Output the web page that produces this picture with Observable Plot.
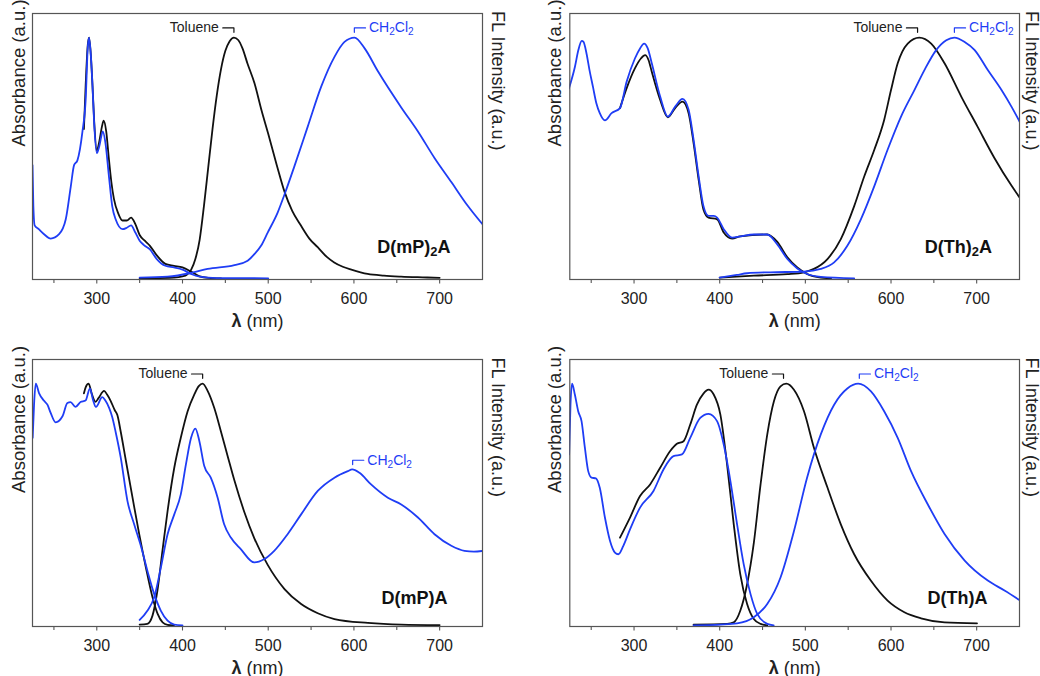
<!DOCTYPE html>
<html><head><meta charset="utf-8">
<script src="https://cdn.jsdelivr.net/npm/d3@7"></script>
<script src="https://cdn.jsdelivr.net/npm/@observablehq/plot@0.6"></script>
<style>
body{margin:0;background:#fff;}
#wrap{position:relative;width:1040px;height:676px;overflow:hidden;background:#fff;}
.panel{position:absolute;}
.panel svg{overflow:visible;}
</style></head><body><div id="wrap"></div>
<script>
// ---------------- data ----------------
const xTicksMajor = [300, 400, 500, 600, 700];
const xTicksMinor = [250, 350, 450, 550, 650];
const xLabel = "λ (nm)";
const yLabelLeft = "Absorbance (a.u.)";
const yLabelRight = "FL Intensity (a.u.)";
const solvents = ["Toluene", "CH2Cl2"];
const compounds = ["D(mP)2A", "D(Th)2A", "D(mP)A", "D(Th)A"];

// D(mP)2A  [wavelength nm, normalized intensity]
const mP2A_tolAbs = [[285,0.62],[287,0.80],[289.5,0.97],[291,1.0],[293,0.93],[295,0.80],[297,0.65],[300,0.53],[303,0.57],[306,0.63],[308,0.655],[311,0.61],[314,0.50],[317,0.40],[320,0.33],[325,0.27],[330,0.24],[335,0.24],[340,0.252],[345,0.225],[350,0.18],[356,0.156],[362,0.135],[370,0.095],[380,0.06],[390,0.052],[400,0.045],[410,0.028],[420,0.008],[430,0.002],[445,0]];
const mP2A_dcmAbs = [[225,0.47],[226,0.30],[227.5,0.22],[232,0.205],[238.5,0.183],[246.3,0.165],[256,0.183],[263.8,0.245],[269.6,0.38],[273.5,0.47],[277.4,0.49],[283.3,0.61],[287,0.74],[289.5,0.96],[291,1.0],[293,0.93],[295,0.80],[297,0.64],[300,0.52],[303,0.55],[307,0.61],[310,0.565],[314,0.43],[318,0.30],[322,0.245],[330,0.204],[335,0.21],[340,0.22],[345,0.19],[350,0.156],[355,0.138],[362,0.12],[370,0.08],[380,0.052],[390,0.045],[400,0.036],[410,0.018],[420,0.007],[440,0.001],[500,0]];
const mP2A_tolFL = [[350,0],[390,0.003],[400,0.008],[405,0.015],[410,0.035],[415,0.08],[420,0.16],[425,0.30],[430,0.46],[435,0.62],[440,0.76],[445,0.87],[450,0.945],[455,0.985],[460,1.0],[465,0.99],[470,0.955],[476,0.89],[484,0.81],[492,0.70],[500,0.60],[510,0.47],[519,0.36],[528,0.28],[538,0.22],[548,0.165],[558,0.128],[568,0.09],[577,0.066],[587,0.048],[597,0.036],[616,0.018],[635,0.011],[655,0.007],[680,0.004],[700,0.002]];
const mP2A_dcmFL = [[350,0.003],[382.6,0.007],[409.8,0.022],[429.3,0.039],[460.5,0.055],[476,0.073],[483.8,0.10],[491.6,0.135],[499.4,0.19],[511,0.273],[519,0.348],[530.6,0.466],[546.2,0.631],[561.8,0.796],[577.3,0.92],[589,0.982],[600.7,1.0],[612.5,0.955],[628,0.86],[655.2,0.71],[674.7,0.61],[694,0.50],[713.6,0.40],[733,0.30],[751,0.22]];

// D(Th)2A
const Th2A_tolAbs = [[283.6,0.707],[291.4,0.79],[301,0.872],[308,0.913],[312.9,0.927],[317,0.906],[320.7,0.858],[330.5,0.741],[339.5,0.669],[348,0.707],[356.6,0.734],[363.7,0.686],[369.5,0.562],[375.4,0.41],[381,0.286],[387,0.252],[397,0.245],[404.7,0.19],[414.5,0.165],[424,0.174],[455.5,0.182],[467,0.152],[479,0.087],[490.6,0.045],[502,0.018],[518,0.003],[530,0]];
const Th2A_dcmAbs = [[224,0.789],[231,0.879],[235,0.948],[239,0.986],[241,0.982],[244.5,0.934],[248,0.865],[252,0.796],[256,0.727],[260,0.686],[266,0.656],[273.8,0.686],[283.6,0.707],[291.4,0.817],[301,0.913],[307,0.955],[311.7,0.975],[316,0.955],[320.7,0.893],[330.5,0.755],[339.5,0.672],[348,0.713],[356.6,0.745],[363.7,0.70],[369.5,0.576],[375.4,0.424],[381,0.30],[387,0.259],[393,0.259],[397,0.252],[404.7,0.204],[414.5,0.169],[424,0.174],[439.8,0.182],[455.5,0.182],[467,0.142],[479,0.08],[490.6,0.041],[502,0.018],[518,0.006],[557,0]];
const Th2A_tolFL = [[400,0.003],[439.8,0.011],[479,0.017],[498.4,0.025],[510,0.039],[525.8,0.08],[541.4,0.163],[557,0.30],[568.8,0.424],[580.5,0.534],[592,0.658],[600,0.782],[607.8,0.893],[619.5,0.975],[633,1.0],[646.9,0.975],[662.5,0.893],[682,0.755],[701,0.63],[720.7,0.50],[740.6,0.385],[751,0.331]];
const Th2A_dcmFL = [[400,0.003],[420,0.014],[432,0.021],[459,0.025],[498.4,0.028],[518,0.039],[533.6,0.066],[549,0.135],[564.8,0.245],[580.5,0.383],[596,0.534],[611.7,0.672],[627.3,0.782],[639,0.865],[652.7,0.948],[664.5,0.989],[674,1.0],[686,0.982],[697.7,0.948],[713,0.865],[729,0.782],[740.6,0.713],[751,0.645]];

// D(mP)A
const mPA_tolAbs = [[285,0.96],[287,0.985],[290.5,1.0],[294,0.96],[298.5,0.925],[302,0.94],[308.5,0.97],[312,0.955],[316,0.93],[321,0.89],[324,0.87],[328,0.80],[334,0.68],[341.7,0.528],[349.5,0.377],[357.3,0.239],[365,0.116],[371,0.047],[376.8,0.012],[382.6,0.002],[390,0]];
const mPA_dcmAbs = [[225.2,0.776],[226.8,0.913],[228.8,1.0],[232.6,0.961],[238.2,0.93],[242.4,0.913],[246.2,0.879],[251.9,0.84],[260,0.865],[265.7,0.92],[269.4,0.924],[275.2,0.904],[281,0.924],[286.9,0.93],[292,0.98],[295.5,0.934],[299,0.904],[306.4,0.944],[310,0.93],[314.4,0.9],[318,0.862],[322,0.80],[328,0.693],[335.8,0.514],[343.6,0.418],[351.4,0.329],[359,0.226],[367,0.129],[374.8,0.06],[382.6,0.019],[390.4,0.003],[400,0]];
const mPA_tolFL = [[350,0.003],[359,0.006],[365,0.04],[370.7,0.143],[376.6,0.308],[382.6,0.473],[390.4,0.652],[398,0.776],[406,0.886],[413.7,0.955],[419,0.99],[423.5,1.0],[429.3,0.97],[437,0.90],[445,0.80],[452.7,0.70],[460.5,0.60],[472,0.47],[483.8,0.36],[499.4,0.25],[519,0.15],[538.4,0.088],[557.8,0.05],[577.3,0.026],[616.3,0.01],[655.2,0.003],[700,0.001]];
const mPA_dcmFL = [[350,0.022],[359,0.06],[367,0.116],[374.8,0.24],[382.6,0.377],[390.4,0.459],[398,0.542],[404,0.666],[410,0.776],[415,0.814],[419.7,0.762],[425.4,0.659],[433,0.611],[441,0.528],[448.6,0.418],[456.4,0.363],[468,0.315],[483.8,0.26],[495.5,0.274],[507,0.308],[522.6,0.377],[538.4,0.459],[557.8,0.556],[577.3,0.611],[592.9,0.638],[598,0.645],[606.5,0.631],[620,0.583],[639.6,0.528],[655.2,0.50],[674.7,0.446],[694,0.377],[713.6,0.329],[729,0.308],[740,0.305],[750.5,0.308]];

// D(Th)A
const ThA_tolAbs = [[283.6,0.363],[295.3,0.446],[307,0.535],[318.75,0.583],[330.5,0.652],[342.2,0.721],[350,0.751],[357.8,0.762],[365.6,0.831],[373.4,0.913],[381,0.959],[387,0.975],[393,0.955],[400.8,0.872],[408.6,0.666],[416.4,0.418],[424,0.212],[432,0.088],[439.8,0.026],[447.7,0.006],[455.5,0]];
const ThA_dcmAbs = [[224.2,0.707],[225.8,0.913],[227.7,1.0],[230.9,0.955],[234.8,0.886],[238.7,0.845],[242.6,0.735],[246.5,0.638],[250.4,0.611],[255.5,0.608],[260,0.569],[266,0.446],[271.9,0.35],[277.7,0.301],[281.6,0.294],[287.5,0.329],[295.3,0.397],[307,0.487],[322.7,0.556],[334.4,0.645],[346,0.70],[355.9,0.707],[365.6,0.776],[377.3,0.858],[387,0.875],[396.9,0.845],[404.7,0.748],[412.5,0.597],[420.3,0.418],[428,0.253],[436,0.129],[443.8,0.047],[455.5,0.006],[463,0]];
const ThA_tolFL = [[369.5,0.003],[408.6,0.006],[416.4,0.012],[424,0.06],[432,0.17],[439.8,0.34],[447.7,0.583],[455.5,0.789],[463.3,0.927],[471,0.989],[477.7,1.0],[486.7,0.975],[498.4,0.886],[510,0.735],[525.8,0.57],[541.4,0.418],[557,0.294],[576.6,0.184],[596,0.102],[615.6,0.054],[635,0.029],[662.5,0.012],[700.4,0.008]];
const ThA_dcmFL = [[369.5,0],[400.8,0.003],[420.3,0.008],[439.8,0.033],[455.5,0.088],[471,0.198],[486.7,0.39],[502,0.611],[518,0.79],[533.6,0.913],[549,0.98],[561.7,1.0],[576.6,0.968],[592,0.886],[607.8,0.776],[623.4,0.638],[643,0.50],[662.5,0.378],[686,0.268],[713,0.185],[733,0.143],[751,0.102]];

// solvent label anchors: [peak wavelength, level]
const mP2A_labels = [[460, 1.022], [600.5, 1.022]];
const Th2A_labels = [[631, 1.022], [674, 1.022]];
const mPA_labels  = [[423.5, 1.022], [598.5, 0.665]];
const ThA_labels  = [[474.5, 1.022], [563, 1.022]];

// ---------------- drawing ----------------
const BLACK = "#111";
const BLUE = "#1f3df5";
const FONT = "'Liberation Sans', Arial, Helvetica, sans-serif";

const panels = [
  {name: compounds[0], tolAbs: mP2A_tolAbs, dcmAbs: mP2A_dcmAbs, tolFL: mP2A_tolFL, dcmFL: mP2A_dcmFL, labels: mP2A_labels,
   left: 0, top: 0, m: [13, 38, 59, 32], nameOff: [-32, -27], yl: -8, yr: 9},
  {name: compounds[1], tolAbs: Th2A_tolAbs, dcmAbs: Th2A_dcmAbs, tolFL: Th2A_tolFL, dcmFL: Th2A_dcmFL, labels: Th2A_labels,
   left: 520, top: 0, m: [13, 21, 59, 49.3], nameOff: [-27.5, -27], yl: -9, yr: 6},
  {name: compounds[2], tolAbs: mPA_tolAbs, dcmAbs: mPA_dcmAbs, tolFL: mPA_tolFL, dcmFL: mPA_dcmFL, labels: mPA_labels,
   left: 0, top: 338, m: [21, 38, 50, 32], nameOff: [-35, -23], yl: -8, yr: 9},
  {name: compounds[3], tolAbs: ThA_tolAbs, dcmAbs: ThA_dcmAbs, tolFL: ThA_tolFL, dcmFL: ThA_dcmFL, labels: ThA_labels,
   left: 520, top: 338, m: [21, 21, 50, 49.3], nameOff: [-32, -23], yl: -9, yr: 6}
];

const HOOK_NM = 13, HOOK_H = 0.018;

function bracketPoints(labels) {
  const pts = [];
  labels.forEach(([x, y], i) => {
    if (i === 0) {
      pts.push({id: i, x: x - HOOK_NM, y: y + HOOK_H}, {id: i, x: x, y: y + HOOK_H}, {id: i, x: x, y: y});
    } else {
      pts.push({id: i, x: x, y: y}, {id: i, x: x, y: y + HOOK_H}, {id: i, x: x + HOOK_NM, y: y + HOOK_H});
    }
  });
  return pts;
}

function makePanel(p) {
  const series = [
    {data: p.tolAbs, color: BLACK},
    {data: p.tolFL, color: BLACK},
    {data: p.dcmAbs, color: BLUE},
    {data: p.dcmFL, color: BLUE}
  ];
  const br = bracketPoints(p.labels);
  const [tol, dcm] = p.labels;
  return Plot.plot({
    width: 520, height: 338,
    marginTop: p.m[0], marginRight: p.m[1], marginBottom: p.m[2], marginLeft: p.m[3],
    style: {fontFamily: FONT, color: "#222", background: "transparent", overflow: "visible"},
    x: {domain: [225, 750]},
    y: {domain: [-0.005, 1.1], axis: null},
    marks: [
      Plot.axisX({ticks: xTicksMajor, tickSize: 4.5, tickPadding: 8.5, fontSize: 16, label: null, stroke: "#555", strokeWidth: 1.1, fill: "#222"}),
      Plot.axisX({ticks: xTicksMinor, tickSize: 4, tickFormat: () => "", label: null, stroke: "#555", strokeWidth: 1.1}),
      ...series.map(s => Plot.line(s.data, {x: d => d[0], y: d => d[1], stroke: s.color, strokeWidth: 1.8, curve: "monotone-x", clip: true})),
      Plot.line(br, {x: "x", y: "y", z: "id", stroke: d => d.id === 0 ? BLACK : BLUE, strokeWidth: 1.2}),
      Plot.text([solvents[0]], {x: () => tol[0] - HOOK_NM, y: () => tol[1], dx: -4, textAnchor: "end", lineAnchor: "bottom", fontSize: 14, fill: "#222"}),
      Plot.text([solvents[1]], {x: () => dcm[0] + HOOK_NM, y: () => dcm[1], dx: 3.5, textAnchor: "start", lineAnchor: "bottom", fontSize: 14, fill: BLUE}),
      Plot.text([p.name], {frameAnchor: "bottom-right", dx: p.nameOff[0], dy: p.nameOff[1], textAnchor: "end", lineAnchor: "bottom", fontSize: 18, fontWeight: "bold", fill: "#111"}),
      Plot.text([xLabel], {frameAnchor: "bottom", dy: 47, lineAnchor: "bottom", fontSize: 18, fill: "#222"}),
      Plot.text([yLabelLeft], {frameAnchor: "left", rotate: -90, dx: p.yl, lineAnchor: "bottom", fontSize: 18.5, fill: "#222"}),
      Plot.text([yLabelRight], {frameAnchor: "right", rotate: 90, dx: p.yr, dy: 4, lineAnchor: "bottom", fontSize: 18, fill: "#222"}),
      Plot.frame({stroke: "#555", strokeWidth: 1.2})
    ]
  });
}

function richify(svg) {
  svg.querySelectorAll("text").forEach(t => {
    const s = t.textContent;
    const ns = "http://www.w3.org/2000/svg";
    if (s === xLabel) {
      t.textContent = "";
      const a = document.createElementNS(ns, "tspan");
      a.setAttribute("font-weight", "bold");
      a.textContent = "λ";
      const b = document.createElementNS(ns, "tspan");
      b.textContent = s.slice(1);
      t.appendChild(a); t.appendChild(b);
      return;
    }
    if (/[A-Za-z)]2/.test(s)) {
      const fs = parseFloat(getComputedStyle(t).fontSize) || 13;
      const shift = fs * 0.22;
      const parts = s.split(/(?<=[A-Za-z)])(2)/);
      t.textContent = "";
      let sub = false;
      parts.forEach(part => {
        if (part === "") return;
        const ts = document.createElementNS(ns, "tspan");
        if (part === "2") {
          ts.setAttribute("font-size", (fs * 0.72) + "px");
          ts.setAttribute("dy", shift);
          sub = true;
        } else if (sub) {
          ts.setAttribute("dy", -shift);
          sub = false;
        }
        ts.textContent = part;
        t.appendChild(ts);
      });
    }
  });
}

const wrap = document.getElementById("wrap");
panels.forEach(p => {
  const div = document.createElement("div");
  div.className = "panel";
  div.style.left = p.left + "px";
  div.style.top = p.top + "px";
  const svg = makePanel(p);
  div.appendChild(svg);
  wrap.appendChild(div);
  richify(svg);
});
</script>
</body></html>
